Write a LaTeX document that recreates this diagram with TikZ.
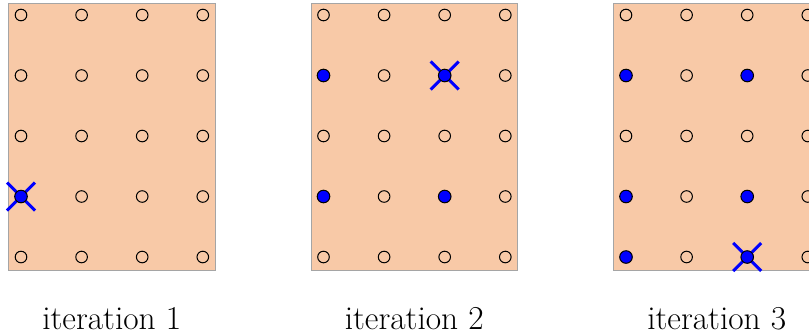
\documentclass[tikz,border=0pt]{standalone}
\usetikzlibrary{shapes.misc}
\definecolor{peach}{RGB}{248,201,167}
\definecolor{framegray}{RGB}{165,165,165}
\begin{document}
\makeatletter
\begin{tikzpicture}[x=0.5pt,y=-0.5pt,
  panel/.style={draw=framegray, line width=0.5pt, fill=peach, inner sep=0pt,
                minimum width=103.25pt, minimum height=133.5pt},
  emptydot/.style={circle, draw=black, line width=0.5pt, inner sep=0pt, minimum size=5.8pt},
  fulldot/.style={circle, draw=black, fill=blue, line width=0.5pt, inner sep=0pt, minimum size=6.3pt},
  chosen/.style={cross out, draw=blue, line width=1.5pt, inner sep=0pt, minimum size=12.5pt},
  caption/.style={anchor=base, inner sep=0pt, font=\fontsize{16.7}{20}\selectfont}]
\useasboundingbox (0,0) rectangle (809,334);
% panels
\foreach \k in {0,1,2} {
  \node[panel] (panel\k) at (111.75+302.5*\k, 136.5) {};
}
% chosen crosses
\node[chosen] (x0) at (21+302.5*0+60.6*0, 15+60.5*3) {};
\node[chosen] (x1) at (21+302.5*1+60.6*2, 15+60.5*1) {};
\node[chosen] (x2) at (21+302.5*2+60.6*2, 15+60.5*4) {};
% dots
\foreach \k/\set in {0/{03},1/{01,21,03,23},2/{01,21,03,23,04,24}} {
  \foreach \c in {0,...,3} {
    \foreach \r in {0,...,4} {
      \edef\testset{\noexpand\in@{,\c\r,}{,\set,}}\testset
      \ifin@
        \node[fulldot] (d\k\c\r) at (21+302.5*\k+60.6*\c, 15+60.5*\r) {};
      \else
        \node[emptydot] (d\k\c\r) at (21+302.5*\k+60.6*\c, 15+60.5*\r) {};
      \fi
    }
  }
}
% captions
\foreach \k/\n in {0/1,1/2,2/3} {
  \node[caption] (cap\k) at (111.75+302.5*\k, 329.3) {iteration \n};
}
\end{tikzpicture}
\makeatother
\end{document}
